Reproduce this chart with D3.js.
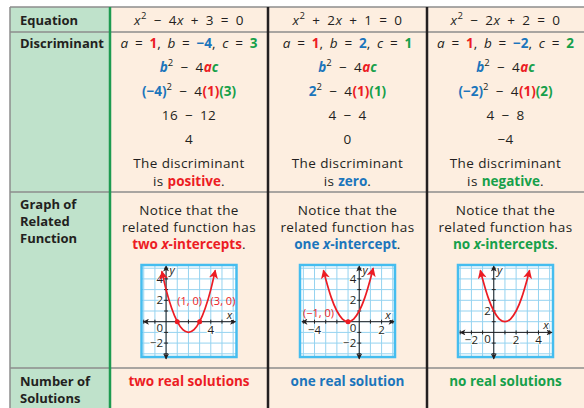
<!DOCTYPE html>
<html>
<head>
<meta charset="utf-8">
<script src="https://cdn.jsdelivr.net/npm/d3@7"></script>
<style>
  body { margin: 0; background: #fff; }
  text { font-family: "Open Sans", sans-serif; fill: #231f20; white-space: pre; }
</style>
</head>
<body>
<script>
// values
const rowLabels = [["Equation"], ["Discriminant"], ["Graph of", "Related", "Function"], ["Number of", "Solutions"]];
const aVals = [1, 1, 1];
const bVals = [-4, 2, -2];
const cVals = [3, 1, 2];
const bSquared = [16, 4, 4];
const fourAC = [12, 4, 8];
const discValues = [4, 0, -4];
const signWords = ["positive", "zero", "negative"];
const interceptCount = ["two", "one", "no"];
const interceptWord = ["x-intercepts", "x-intercept", "x-intercepts"];
const solutionText = ["two real solutions", "one real solution", "no real solutions"];

const graphXDomains = [[-2.2, 6.3], [-5.3, 3.2], [-3.2, 5.3]];
const graphYDomains = [[-3.3, 5.3], [-3.3, 5.3], [-2.3, 6.3]];
const curvePoints = [
    [[-0.38, 4.7], [0, 3], [0.5, 1.25], [1, 0], [1.5, -0.75], [2, -1], [2.5, -0.75], [3, 0], [3.5, 1.25], [4, 3], [4.4, 4.8]],
    [[-3.2, 4.8], [-3, 4], [-2.5, 2.25], [-2, 1], [-1.5, 0.25], [-1, 0], [-0.5, 0.25], [0, 1], [0.5, 2.25], [1, 4], [1.25, 5]],
    [[-1.2, 5.8], [-1, 5], [-0.5, 3.25], [0, 2], [0.5, 1.25], [1, 1], [1.5, 1.25], [2, 2], [2.5, 3.25], [3, 5], [3.2, 5.8]]
];
const interceptPoints = [[[1, 0], [3, 0]], [[-1, 0]], []];
const interceptLabels = [["(1, 0)", "(3, 0)"], ["(−1, 0)"], []];
const xTickLabels = [[4], [-4, 2], [-2, 2, 4]];
const yTickLabels = [[4, 2, -2], [4, 2, -2], [2]];

const width = 584;
const height = 408;
const colX = [10, 110, 268, 427, 584];
const rowY = [7, 32, 192, 368];
const colColors = ["#ec1c24", "#1b75bc", "#16a04a"];
const red = colColors[0], blue = colColors[1], green = colColors[2];
const dark = "#231f20";

// pixel offsets of the intercept labels
const labelOffsets = [[[0, -17], [11, -17]], [[-14, -5]], []];

let svg = d3.select("body").append("svg")
    .attr("width", width)
    .attr("height", height);

let defs = svg.append("defs");
function arrowMarker(id, color, w, h) {
    defs.append("marker")
        .attr("id", id)
        .attr("viewBox", "0 0 10 10")
        .attr("refX", 9).attr("refY", 5)
        .attr("markerUnits", "userSpaceOnUse")
        .attr("markerWidth", w).attr("markerHeight", h)
        .attr("orient", "auto-start-reverse")
        .append("path")
        .attr("d", "M0,0 L10,5 L0,10 L2.5,5 Z")
        .attr("fill", color);
}
arrowMarker("axArrow", dark, 7, 6);
arrowMarker("redArrow", red, 10, 9);

// backgrounds
svg.append("rect").attr("x", colX[0]).attr("y", rowY[0])
    .attr("width", colX[1] - colX[0]).attr("height", height)
    .attr("fill", "#bfe2cb");
svg.append("rect").attr("x", colX[1]).attr("y", rowY[0])
    .attr("width", width - colX[1]).attr("height", height)
    .attr("fill", "#fdeee0");

// grid lines of the table
svg.selectAll(".rowline").data(rowY).enter().append("line")
    .attr("x1", colX[0]).attr("x2", width)
    .attr("y1", d => d).attr("y2", d => d)
    .attr("stroke", "#8c8c8c").attr("stroke-width", 1.5);
svg.append("line").attr("x1", colX[0]).attr("x2", colX[0])
    .attr("y1", rowY[0]).attr("y2", height)
    .attr("stroke", "#8c8c8c").attr("stroke-width", 1.5);
svg.append("line").attr("x1", colX[1]).attr("x2", colX[1])
    .attr("y1", rowY[0]).attr("y2", height)
    .attr("stroke", "#1e9a50").attr("stroke-width", 2.5);
svg.selectAll(".colline").data([colX[2], colX[3]]).enter().append("line")
    .attr("x1", d => d).attr("x2", d => d)
    .attr("y1", rowY[0]).attr("y2", height)
    .attr("stroke", dark).attr("stroke-width", 2.5);

// row labels
const labelBaselines = [[24.5], [47.5], [209, 226, 243], [386, 403]];
rowLabels.forEach((lines, r) => {
    lines.forEach((l, k) => {
        svg.append("text")
            .attr("x", 20).attr("y", labelBaselines[r][k])
            .attr("font-weight", "bold")
            .style("font-size", "13px")
            .text(l);
    });
});

// rich text with coloured / italic / superscript pieces
function rich(x, y, parts, wordSpace) {
    let t = svg.append("text")
        .attr("x", x).attr("y", y)
        .attr("text-anchor", "middle")
        .style("font-size", "13.5px")
        .style("letter-spacing", "0.4px")
        .style("word-spacing", (wordSpace || 0) + "px");
    let shift = 0;
    parts.forEach(p => {
        let s = t.append("tspan").text(p.t);
        if (p.c) s.style("fill", p.c);
        if (p.b) s.attr("font-weight", "bold").style("letter-spacing", "0px");
        if (p.i) s.attr("font-style", "italic");
        let target = p.sup ? -6 : 0;
        if (target !== shift) {
            s.attr("dy", target - shift);
            shift = target;
        }
        if (p.sup) s.style("font-size", "9.5px");
    });
}

const fmt = v => v < 0 ? "−" + Math.abs(v) : String(v);
const signed = v => (v < 0 ? " − " : " + ") + Math.abs(v);

for (let i = 0; i < 3; i++) {
    const cx = (colX[i + 1] + colX[i + 2]) / 2;
    const a = aVals[i], b = bVals[i], c = cVals[i];

    rich(cx, 24.5, [
        { t: "x", i: true }, { t: "2", sup: true }, { t: signed(b) }, { t: "x", i: true },
        { t: signed(c) + " = 0" }
    ], 3);
    rich(cx, 47.5, [
        { t: "a", i: true }, { t: " = " }, { t: fmt(a), c: red, b: true }, { t: ", " },
        { t: "b", i: true }, { t: " = " }, { t: fmt(b), c: blue, b: true }, { t: ", " },
        { t: "c", i: true }, { t: " = " }, { t: fmt(c), c: green, b: true }
    ], 2.5);
    rich(cx, 72, [
        { t: "b", i: true, b: true, c: blue }, { t: "2", sup: true }, { t: " − 4" },
        { t: "a", i: true, b: true, c: red }, { t: "c", i: true, b: true, c: green }
    ], 3);
    rich(cx, 95.5, [
        { t: b < 0 ? "(" + fmt(b) + ")" : fmt(b), b: true, c: blue }, { t: "2", sup: true },
        { t: " − 4" }, { t: "(" + fmt(a) + ")", b: true, c: red }, { t: "(" + fmt(c) + ")", b: true, c: green }
    ], 3);
    rich(cx, 120, [{ t: bSquared[i] + " − " + fourAC[i] }], 3);
    rich(cx, 143.5, [{ t: fmt(discValues[i]) }]);
    rich(cx, 167.5, [{ t: "The discriminant" }]);
    rich(cx, 185.5, [{ t: "is " }, { t: signWords[i], b: true, c: colColors[i] }, { t: "." }]);

    rich(cx, 214.5, [{ t: "Notice that the" }]);
    rich(cx, 231.5, [{ t: "related function has" }]);
    rich(cx, 248.5, [
        { t: interceptCount[i] + " ", b: true, c: colColors[i] },
        { t: "x", b: true, i: true, c: colColors[i] },
        { t: interceptWord[i].slice(1), b: true, c: colColors[i] },
        { t: "." }
    ]);
    rich(cx, 385.5, [{ t: solutionText[i], b: true, c: colColors[i] }]);

    // small graph of the related function
    const gw = 95, gh = 92;
    let g = svg.append("g").attr("transform", `translate(${cx - gw / 2},265)`);
    let xScale = d3.scaleLinear().domain(graphXDomains[i]).range([0, gw]);
    let yScale = d3.scaleLinear().domain(graphYDomains[i]).range([gh, 0]);
    const xs = d3.range(Math.ceil(graphXDomains[i][0]), Math.floor(graphXDomains[i][1]) + 1);
    const ys = d3.range(Math.ceil(graphYDomains[i][0]), Math.floor(graphYDomains[i][1]) + 1);

    g.append("rect").attr("width", gw).attr("height", gh).attr("fill", "#fff");
    g.selectAll(".vgrid").data(xs).enter().append("line")
        .attr("x1", d => xScale(d)).attr("x2", d => xScale(d))
        .attr("y1", 0).attr("y2", gh)
        .attr("stroke", "#95d3f0").attr("stroke-width", 1);
    g.selectAll(".hgrid").data(ys).enter().append("line")
        .attr("y1", d => yScale(d)).attr("y2", d => yScale(d))
        .attr("x1", 0).attr("x2", gw)
        .attr("stroke", "#95d3f0").attr("stroke-width", 1);
    g.append("rect").attr("width", gw).attr("height", gh)
        .attr("fill", "none").attr("stroke", "#45bdef").attr("stroke-width", 2.5);

    const x0 = xScale(0), y0 = yScale(0);
    g.append("line").attr("x1", 2).attr("x2", gw - 1).attr("y1", y0).attr("y2", y0)
        .attr("stroke", dark).attr("stroke-width", 1)
        .attr("marker-start", "url(#axArrow)").attr("marker-end", "url(#axArrow)");
    g.append("line").attr("x1", x0).attr("x2", x0).attr("y1", gh + 2).attr("y2", 1)
        .attr("stroke", dark).attr("stroke-width", 1)
        .attr("marker-start", "url(#axArrow)").attr("marker-end", "url(#axArrow)");
    g.selectAll(".xtick").data(xs.filter(d => d !== 0)).enter().append("line")
        .attr("x1", d => xScale(d)).attr("x2", d => xScale(d))
        .attr("y1", y0 - 2).attr("y2", y0 + 2)
        .attr("stroke", dark).attr("stroke-width", 1);
    g.selectAll(".ytick").data(ys.filter(d => d !== 0)).enter().append("line")
        .attr("y1", d => yScale(d)).attr("y2", d => yScale(d))
        .attr("x1", x0 - 2).attr("x2", x0 + 2)
        .attr("stroke", dark).attr("stroke-width", 1);

    const tickStyle = sel => sel.style("font-size", "11.5px")
        .attr("stroke", "#fff").attr("stroke-width", 2).attr("paint-order", "stroke");
    g.selectAll(".xlab").data(xTickLabels[i]).enter().append("text")
        .attr("x", d => xScale(d)).attr("y", y0 + 12)
        .attr("text-anchor", "middle")
        .call(tickStyle)
        .text(fmt);
    g.selectAll(".ylab").data(yTickLabels[i]).enter().append("text")
        .attr("x", x0 - 3).attr("y", d => yScale(d) + 4)
        .attr("text-anchor", "end")
        .call(tickStyle)
        .text(fmt);
    g.append("text").attr("x", x0 - 3).attr("y", y0 + 10.5)
        .attr("text-anchor", "end").call(tickStyle).text("0");
    g.append("text").attr("x", gw - 7).attr("y", y0 - 3)
        .attr("text-anchor", "middle").attr("font-style", "italic")
        .call(tickStyle).text("x");
    g.append("text").attr("x", x0 + 6).attr("y", 9)
        .attr("text-anchor", "middle").attr("font-style", "italic")
        .call(tickStyle).text("y");

    let line = d3.line()
        .curve(d3.curveNatural)
        .x(d => xScale(d[0]))
        .y(d => yScale(d[1]));
    g.append("path")
        .attr("d", line(curvePoints[i]))
        .attr("fill", "none")
        .attr("stroke", red)
        .attr("stroke-width", 1.7)
        .attr("marker-start", "url(#redArrow)")
        .attr("marker-end", "url(#redArrow)");

    g.selectAll(".pt").data(interceptPoints[i]).enter().append("circle")
        .attr("cx", d => xScale(d[0])).attr("cy", d => yScale(d[1]))
        .attr("r", 2.5).attr("fill", red);
    g.selectAll(".ptlab").data(interceptPoints[i]).enter().append("text")
        .attr("x", (d, k) => xScale(d[0]) + labelOffsets[i][k][0])
        .attr("y", (d, k) => yScale(d[1]) + labelOffsets[i][k][1])
        .attr("text-anchor", i === 1 ? "end" : "start")
        .style("font-size", "11px")
        .style("fill", red)
        .text((d, k) => interceptLabels[i][k]);
}
</script>
</body>
</html>
